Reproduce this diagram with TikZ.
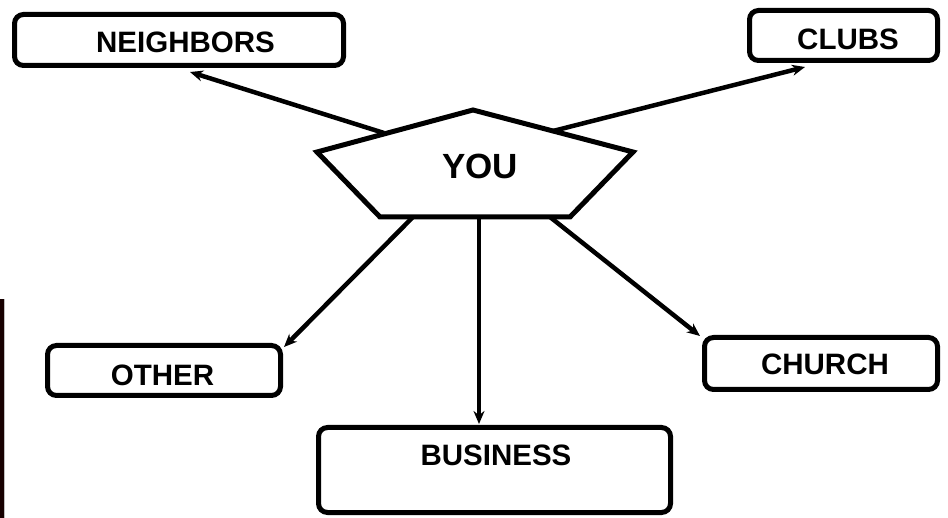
\documentclass[tikz,border=0pt]{standalone}
\usepackage{fontspec}
\setmainfont{Liberation Sans}
\usetikzlibrary{arrows.meta}
\begin{document}
\begin{tikzpicture}[x=1pt,y=-1pt,
  boxnode/.style={draw=black,line width=5pt,rounded corners=9pt,inner sep=0pt,anchor=center},
  lbl/.style={font=\bfseries\fontsize{29.5}{30}\selectfont,inner sep=0pt,anchor=center},
  conn/.style={line width=4.5pt,-{Stealth[length=13pt,width=11pt]}},
  pent/.style={draw=black,line width=5pt,line join=miter}]
\useasboundingbox (0,0) rectangle (948,518);
% edge artifact at left
\fill[black!85!red!60!black] (0,299) rectangle (3.5,518);
\fill[black!25] (3.5,299) rectangle (5,518);
% boxes
\node[boxnode,minimum width=329pt,minimum height=51pt] (nb) at (179,40) {};
\node[boxnode,minimum width=188pt,minimum height=50pt] (cl) at (843.5,35.5) {};
\node[boxnode,minimum width=233pt,minimum height=50pt] (ot) at (164,370.5) {};
\node[boxnode,minimum width=352pt,minimum height=85pt] (bu) at (494.5,470) {};
\node[boxnode,minimum width=233pt,minimum height=52pt] (ch) at (821,363.5) {};
% labels
\node[lbl] (nbt) at (185.5,42) {NEIGHBORS};
\node[lbl] (clt) at (848,39) {CLUBS};
\node[lbl] (ott) at (162.5,375) {OTHER};
\node[lbl] (but) at (496,455) {BUSINESS};
\node[lbl] (cht) at (825,364) {CHURCH};
% pentagon
\coordinate (pA) at (473,110);
\coordinate (pR) at (633,152);
\coordinate (pBR) at (570,217);
\coordinate (pBL) at (380,217);
\coordinate (pL) at (317,152);
\draw[pent] (pA) -- (pR) -- (pBR) -- (pBL) -- (pL) -- cycle;
\node[font=\bfseries\fontsize{35}{36}\selectfont,inner sep=0pt] (you) at (480,166) {YOU};
% connector start points on the pentagon
\coordinate (sNB) at (384,133);
\coordinate (sCL) at (553,131);
\coordinate (sOT) at (413,217);
\coordinate (sBU) at (479,217);
\coordinate (sCH) at (550,217);
% arrow tips
\coordinate (eNB) at (190,72);
\coordinate (eCL) at (805,67);
\coordinate (eOT) at (284,347);
\coordinate (eBU) at (479,424);
\coordinate (eCH) at (700,336);
\draw[conn] (sNB) -- (eNB);
\draw[conn] (sCL) -- (eCL);
\draw[conn] (sOT) -- (eOT);
\draw[conn] (sBU) -- (eBU);
\draw[conn] (sCH) -- (eCH);
\end{tikzpicture}
\end{document}
